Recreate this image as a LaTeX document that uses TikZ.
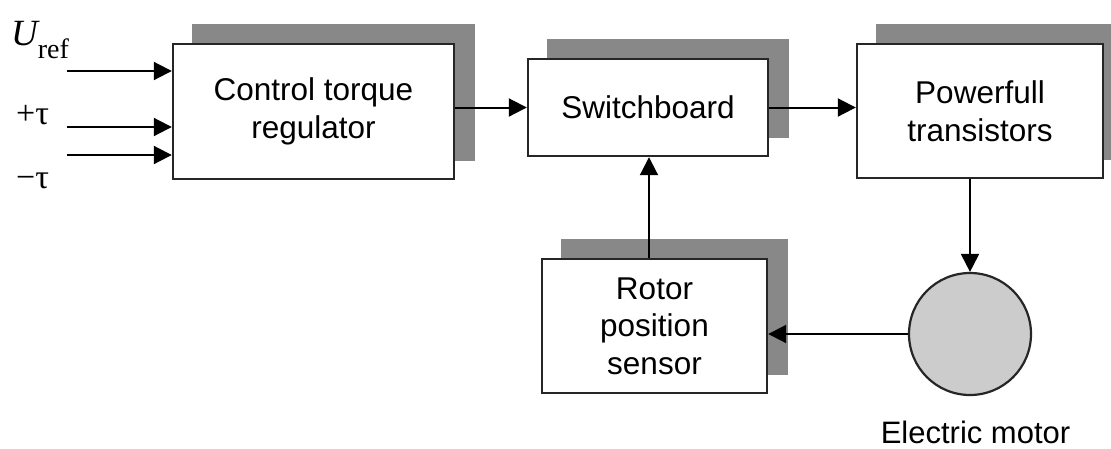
\documentclass[tikz,border=0pt]{standalone}
\usepackage{fontspec}
\setmainfont{Liberation Sans}
\newfontfamily\tnr{Liberation Serif}
\usetikzlibrary{arrows.meta,backgrounds,calc}
\definecolor{shadowc}{HTML}{888888}
\definecolor{motorc}{HTML}{CCCCCC}
\tikzset{
  blockbox/.style={draw=black!85, line width=2.4pt, fill=white, rectangle, align=center,
    font=\fontsize{31.5}{37.5}\selectfont, inner sep=0pt},
  conn/.style={line width=2pt, -{Triangle[length=18pt,width=18pt]}},
  lbl/.style={inner sep=0pt, font=\tnr\fontsize{34}{34}\selectfont}
}
\begin{document}
\begin{tikzpicture}[x=1pt,y=-1pt]
\clip (0,0) rectangle (1111,448);
\node[blockbox, minimum width=281pt, minimum height=135pt] (b1) at (313.5,111.5) {Control torque\\regulator};
\node[blockbox, minimum width=240pt, minimum height=97pt] (b2) at (648,107.5) {Switchboard};
\node[blockbox, minimum width=246pt, minimum height=134pt] (b3) at (980,111) {Powerfull\\transistors};
\node[blockbox, minimum width=225pt, minimum height=134pt] (b4) at (654.5,326) {Rotor\\position\\sensor};
\node[circle, draw=black!85, line width=2.2pt, fill=motorc, minimum size=122pt, inner sep=0pt] (m) at (970,334) {};
\node[anchor=base, inner sep=0pt, font=\fontsize{31}{31}\selectfont] (ml) at (975.5,443) {Electric motor};
\begin{scope}[on background layer]
  \foreach \b in {b1,b2,b3,b4}{
    \fill[shadowc] ($(\b.south west)+(20,-19)$) rectangle ($(\b.north east)+(20,-19)$);
  }
\end{scope}
\node[inner sep=0pt, anchor=base west] (uref) at (11,45) {{\tnr\fontsize{37}{37}\selectfont\itshape U}{\tnr\fontsize{28}{28}\selectfont\raisebox{-13pt}{ref}}};
\node[lbl, anchor=base west] (tp) at (16,124) {+τ};
\node[lbl, anchor=base west] (tm) at (16,188) {−τ};
\coordinate (in1) at (67,71);
\coordinate (in2) at (67,127);
\coordinate (in3) at (67,155);
\draw[conn] (in1) -- (in1 -| b1.west);
\draw[conn] (in2) -- (in2 -| b1.west);
\draw[conn] (in3) -- (in3 -| b1.west);
\draw[conn] (b2.west -| b1.east) -- (b2.west);
\draw[conn] (b2.east) -- (b2.east -| b3.west);
\draw[conn] (b4.north -| 649,0) -- (b2.south -| 649,0);
\draw[conn] (m.north |- b3.south) -- (m.north);
\draw[conn] (m.west) -- (m.west -| b4.east);
\end{tikzpicture}
\end{document}
